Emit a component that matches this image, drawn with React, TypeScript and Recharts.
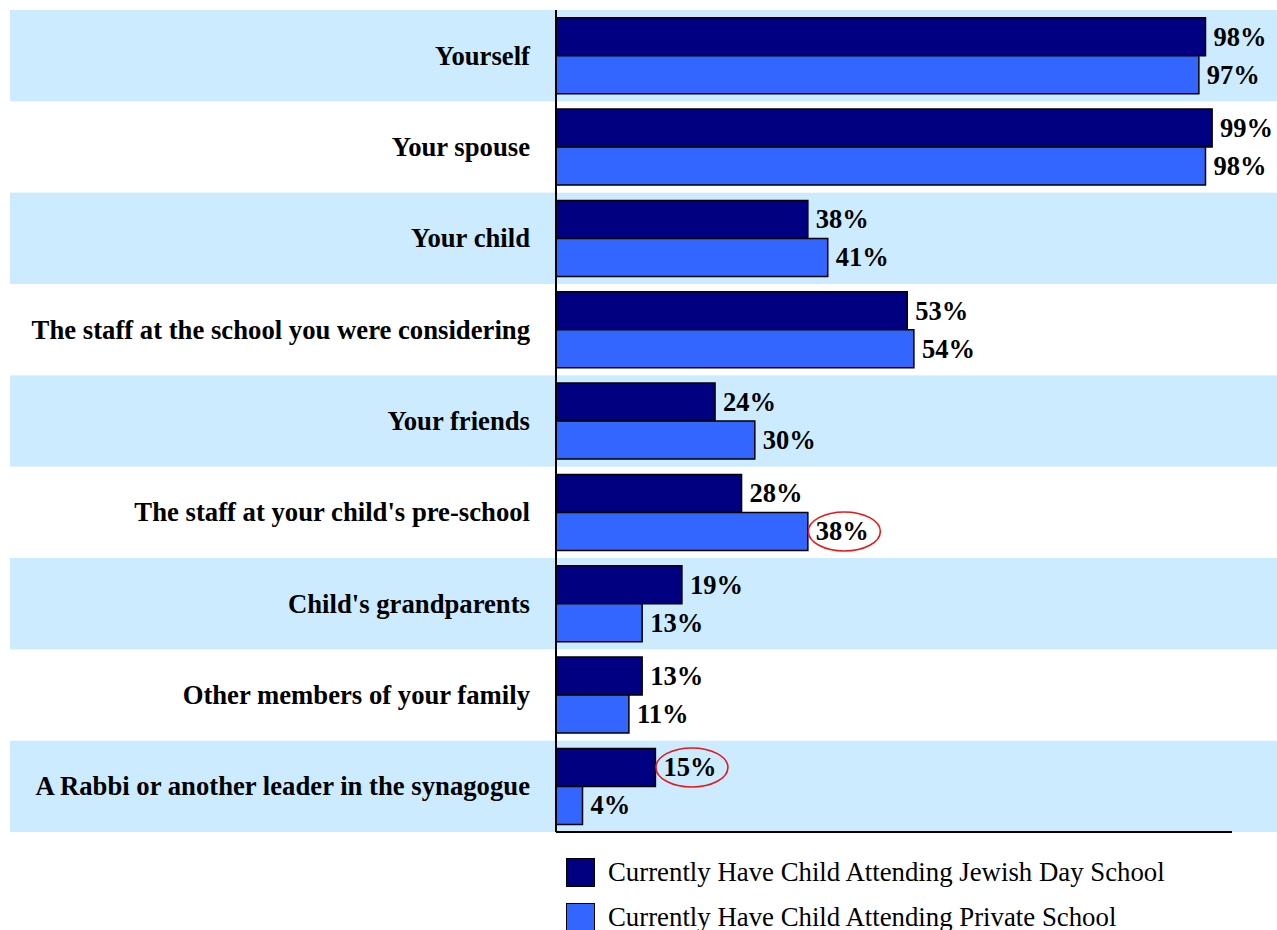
import React from "react";
import { BarChart, Bar, XAxis, YAxis, ReferenceArea, LabelList, Legend } from "recharts";

const categories = [
  "Yourself",
  "Your spouse",
  "Your child",
  "The staff at the school you were considering",
  "Your friends",
  "The staff at your child's pre-school",
  "Child's grandparents",
  "Other members of your family",
  "A Rabbi or another leader in the synagogue",
];
const jewishDaySchool = [98, 99, 38, 53, 24, 28, 19, 13, 15];
const privateSchool = [97, 98, 41, 54, 30, 38, 13, 11, 4];
const highlightJewish = [8];
const highlightPrivate = [5];
const shadedRows = [0, 2, 4, 6, 8];

const seriesNames = [
  "Currently Have Child Attending Jewish Day School",
  "Currently Have Child Attending Private School",
];
const colors = ["#000080", "#3366FF"];

const data = categories.map((name, i) => ({
  name,
  jewish: jewishDaySchool[i],
  priv: privateSchool[i],
}));

const FONT = "'Liberation Serif', 'Times New Roman', serif";
const FS = 26.5;
const CAT_FS = 26.7;
const LEG_FS = 26.8;

const CategoryTick = (props: any) => {
  const { x, y, payload } = props;
  return (
    <text x={x} y={y} textAnchor="end" dominantBaseline="central" fontFamily={FONT} fontSize={CAT_FS} fontWeight="bold" fill="#000">
      {payload.value}
    </text>
  );
};

const makeLabel = (highlights: number[]) => (props: any) => {
  const { x, y, width, height, value, index } = props;
  const tx = x + width + 8;
  const cy = y + height / 2;
  const text = `${value}%`;
  const tw = text.length === 3 ? FS * 2 : FS * 1.5;
  return (
    <g>
      <text x={tx} y={cy} dominantBaseline="central" fontFamily={FONT} fontSize={FS} fontWeight="bold" fill="#000">
        {text}
      </text>
      {highlights.includes(index) && (
        <ellipse cx={tx + tw / 2 + 2} cy={cy} rx={36} ry={19.5} fill="none" stroke="#E41A1A" strokeWidth={1.6} />
      )}
    </g>
  );
};

const BandShape = (props: any) => {
  const { y, height } = props;
  return <rect x={10} y={y} width={1267} height={height} fill="#CCEBFF" />;
};

const LegendContent = () => (
  <div style={{ fontFamily: FONT, fontSize: LEG_FS, color: "#000" }}>
    {seriesNames.map((n, i) => (
      <div key={n} style={{ display: "flex", alignItems: "center", height: 30, marginBottom: 15 }}>
        <div style={{ width: 27, height: 27, background: colors[i], border: "1.5px solid #000", marginRight: 13, flex: "none" }} />
        <span style={{ whiteSpace: "nowrap", lineHeight: "30px" }}>{n}</span>
      </div>
    ))}
  </div>
);

export default function App() {
  return (
    <div style={{ position: "absolute", left: 0, top: 0, width: 1277, height: 930, background: "#fff", overflow: "hidden" }}>
      <BarChart
        width={1277}
        height={930}
        data={data}
        layout="vertical"
        margin={{ top: 10, right: 45, left: 10, bottom: 96 }}
        barCategoryGap="8.5%"
        barGap={0}
      >
        {shadedRows.map((i) => (
          <ReferenceArea key={i} y1={categories[i]} y2={categories[i]} ifOverflow="visible" shape={BandShape} />
        ))}
        <XAxis type="number" domain={[0, 102]} tick={false} tickLine={false} height={2} axisLine={{ stroke: "#000", strokeWidth: 2 }} />
        <YAxis
          type="category"
          dataKey="name"
          width={546}
          tickLine={false}
          tickSize={0}
          tickMargin={26}
          axisLine={{ stroke: "#000", strokeWidth: 2 }}
          tick={<CategoryTick />}
          interval={0}
        />
        <Bar dataKey="jewish" name={seriesNames[0]} fill={colors[0]} stroke="#000" strokeWidth={1.5} isAnimationActive={false}>
          <LabelList dataKey="jewish" content={makeLabel(highlightJewish)} />
        </Bar>
        <Bar dataKey="priv" name={seriesNames[1]} fill={colors[1]} stroke="#000" strokeWidth={1.5} isAnimationActive={false}>
          <LabelList dataKey="priv" content={makeLabel(highlightPrivate)} />
        </Bar>
        <Legend
          layout="vertical"
          align="center"
          verticalAlign="middle"
          content={<LegendContent />}
          wrapperStyle={{ position: "absolute", left: 566, top: 857, width: 700, height: 80 }}
        />
      </BarChart>
    </div>
  );
}
